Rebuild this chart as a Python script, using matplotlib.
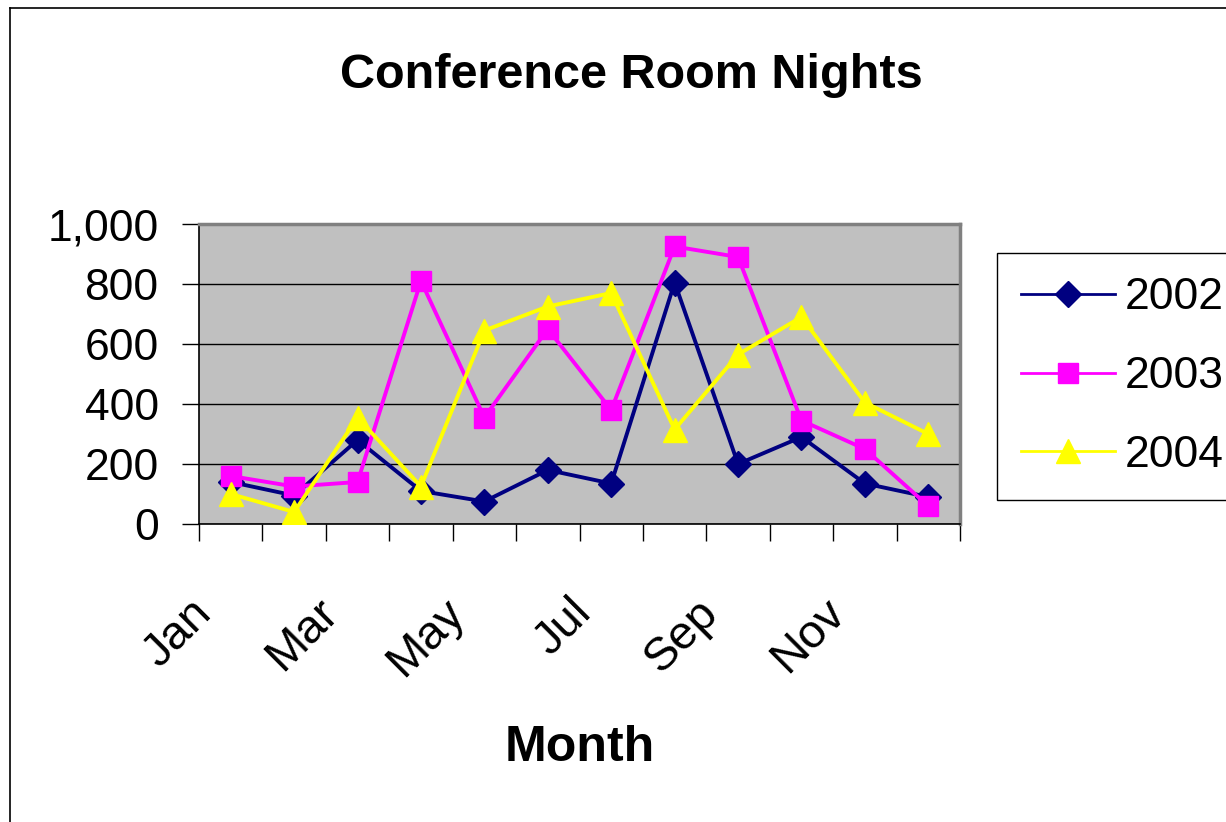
import matplotlib
matplotlib.use("Agg")
import matplotlib.pyplot as plt
from matplotlib.lines import Line2D
from matplotlib.transforms import ScaledTranslation

plt.rcParams['font.family'] = ['Liberation Sans', 'DejaVu Sans']

# data
months = ['Jan', 'Feb', 'Mar', 'Apr', 'May', 'Jun',
          'Jul', 'Aug', 'Sep', 'Oct', 'Nov', 'Dec']
y2002 = [140, 95, 280, 110, 75, 180, 135, 805, 200, 290, 135, 90]
y2003 = [160, 125, 140, 810, 355, 650, 380, 925, 890, 345, 250, 60]
y2004 = [100, 40, 355, 125, 645, 725, 770, 315, 565, 690, 405, 300]
yticks = [0, 200, 400, 600, 800, 1000]

W, H = 1226, 822
fig = plt.figure(figsize=(W / 100, H / 100), dpi=100)

# axes placed in pixel terms
left, right, top, bottom = 199, 960, 224, 524
ax = fig.add_axes([left / W, 1 - bottom / H, (right - left) / W, (bottom - top) / H])
ax.set_facecolor('#c0c0c0')

x = list(range(len(months)))
ax.plot(x, y2002, color='#000080', lw=2.8, marker='D', ms=13, label='2002', zorder=3)
ax.plot(x, y2003, color='#ff00ff', lw=2.8, marker='s', ms=15, label='2003', zorder=4)
ax.plot(x, y2004, color='#ffff00', lw=2.8, marker='^', ms=17, label='2004', zorder=5)

ax.set_xlim(-0.5, 11.5)
ax.set_ylim(0, 1000)

# y axis
ax.set_yticks(yticks)
ax.set_yticklabels([f'{v:,}' for v in yticks], fontsize=32)
ax.tick_params(axis='y', direction='out', length=12, width=1, pad=17)
ax.yaxis.grid(True, color='black', lw=1)
ax.set_axisbelow(True)

# x axis: ticks between categories, labels every other month
ax.set_xticks([i - 0.5 for i in range(13)], minor=True)
ax.set_xticks(x[::2])
ax.set_xticklabels(months[::2], fontsize=34, rotation=45, ha='right',
                   rotation_mode='anchor')
ax.tick_params(axis='x', which='major', length=0, pad=48)
ax.tick_params(axis='x', which='minor', direction='out', length=12, width=1)
shift = ScaledTranslation(-0.42, 0.0, fig.dpi_scale_trans)
for lab in ax.get_xticklabels():
    lab.set_transform(lab.get_transform() + shift)

for s in ['top', 'right']:
    ax.spines[s].set_color('#808080')
    ax.spines[s].set_linewidth(2.5)
for s in ['left', 'bottom']:
    ax.spines[s].set_color('black')
    ax.spines[s].set_linewidth(1.2)

fig.text(631 / W, 1 - 75 / H, 'Conference Room Nights', fontsize=35,
         fontweight='bold', ha='center', va='center')
fig.text(580 / W, 1 - 748 / H, 'Month', fontsize=36, fontweight='bold',
         ha='center', va='center')

leg = fig.legend(loc='upper left', bbox_to_anchor=(997 / W, 1 - 253 / H),
                 fontsize=32, handlelength=2.1, handletextpad=0.22,
                 borderpad=0.55, labelspacing=0.85, borderaxespad=0,
                 fancybox=False, framealpha=1, edgecolor='black')
leg.get_frame().set_linewidth(1)
for ln in leg.get_lines():
    ln.set_linewidth(2)

# outer chart border (right and bottom edges fall outside the picture)
fig.add_artist(Line2D([10 / W, 10 / W], [0, 1 - 8 / H], color='black', lw=1.2,
                      transform=fig.transFigure))
fig.add_artist(Line2D([10 / W, 1], [1 - 8 / H, 1 - 8 / H], color='black', lw=1.2,
                      transform=fig.transFigure))

fig.savefig('out.png', dpi=100)
